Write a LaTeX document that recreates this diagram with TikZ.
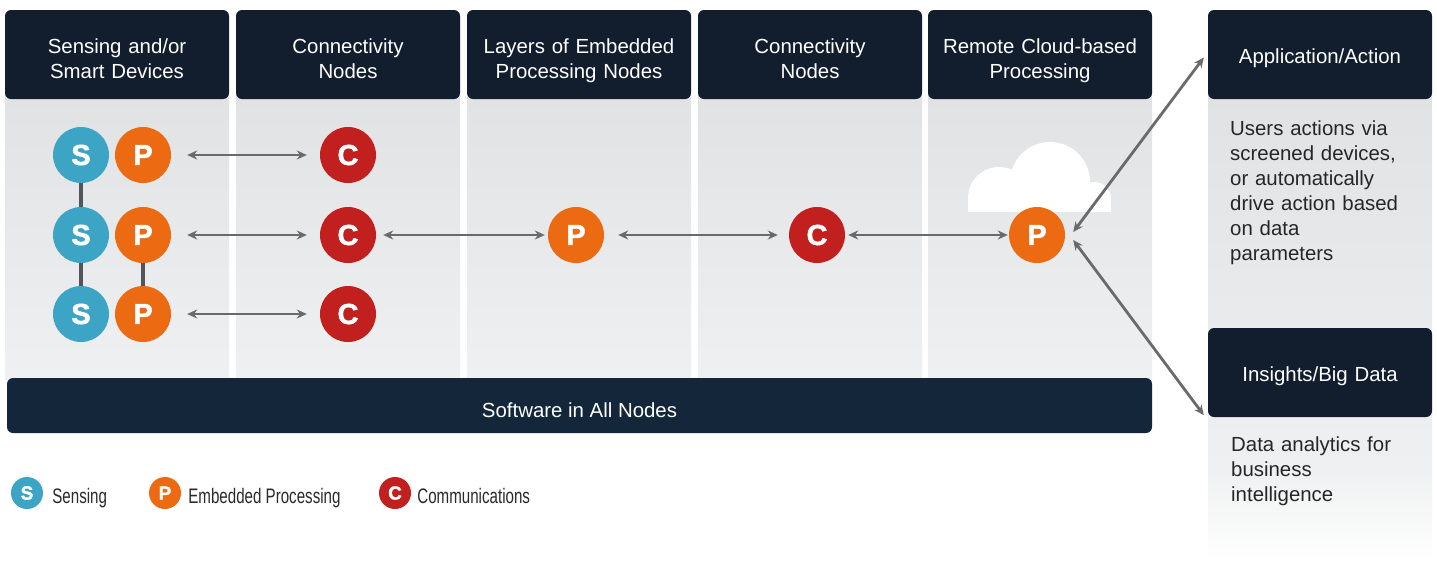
\documentclass[tikz,border=0pt]{standalone}
\usepackage{fontspec}
\setmainfont{Liberation Sans}
\newfontfamily\narrowsans[FakeStretch=0.72]{Liberation Sans}
\newfontfamily\heavysans{Liberation Sans}[BoldFeatures={FakeBold=1.6}]
\usetikzlibrary{arrows.meta}

\definecolor{navy}{HTML}{121D2D}
\definecolor{barnavy}{HTML}{13263A}
\definecolor{senseblue}{HTML}{3CA5C6}
\definecolor{procorange}{HTML}{EC6A12}
\definecolor{commred}{HTML}{C21F1F}
\definecolor{linkgray}{HTML}{6A6A6A}
\definecolor{stemgray}{HTML}{52565B}
\definecolor{paneltop}{HTML}{E1E2E4}
\definecolor{panelbot}{HTML}{EFF0F1}
\definecolor{legendtext}{HTML}{2A2A2A}

\tikzset{
  hdr/.style={fill=navy, rounded corners=6pt, minimum width=224pt, minimum height=89pt,
    inner sep=0pt, text width=224pt, align=center, text=white,
    font=\fontsize{20.4}{25}\selectfont},
  hdrtwo/.style={hdr, text height=11pt, text depth=14pt},
  hdrone/.style={hdr, text height=17pt, text depth=0pt},
  swbar/.style={fill=barnavy, rounded corners=6pt, minimum width=1145pt, minimum height=55pt,
    inner sep=0pt, text=white, text height=23pt, text depth=0pt,
    font=\fontsize{20.4}{25}\selectfont},
  dot/.style={circle, minimum size=56pt, inner sep=0pt, text=white,
    font=\heavysans\fontsize{29}{29}\selectfont\bfseries},
  sdot/.style={dot, fill=senseblue},
  pdot/.style={dot, fill=procorange},
  cdot/.style={dot, fill=commred},
  mini/.style={circle, minimum size=32pt, inner sep=0pt, text=white,
    font=\heavysans\fontsize{19}{19}\selectfont\bfseries},
  legtxt/.style={anchor=base west, inner sep=0pt, text=legendtext,
    font=\narrowsans\fontsize{21}{21}\selectfont},
  bodytxt/.style={anchor=base west, inner sep=0pt, align=left, text width=215pt,
    text=black!85, font=\fontsize{20.4}{25}\selectfont},
  link/.style={draw=linkgray, line width=2.8pt,
    {Stealth[length=10pt,width=9pt]}-{Stealth[length=10pt,width=9pt]}},
  stem/.style={draw=stemgray, line width=3.5pt},
  panel/.style={top color=paneltop, bottom color=panelbot}
}

\begin{document}
\begin{tikzpicture}[x=1pt, y=1pt]
\useasboundingbox[fill=white] (0,0) rectangle (1437,-566);

% column bodies
\foreach \xl in {5,236,467,698,928}
  \shade[panel] (\xl,-95) rectangle ++(224,-284);
% right-hand column body, fading out towards the bottom
\shade[top color=paneltop, bottom color=panelbot] (1208,-95) rectangle (1432,-470);
\shade[top color=panelbot, bottom color=white] (1208,-470) rectangle (1432,-560);

% cloud behind the remote processing node
\begin{scope}
  \clip (960,-120) rectangle (1120,-211);
  \fill[white] (1050,-182) circle (40);
  \fill[white] (999,-198) circle (31);
  \fill[white] (1094,-199) circle (17);
  \fill[white] (968,-195) rectangle (1111,-215);
\end{scope}

% column headers
\node[hdrtwo] (h1) at (117,-54.5) {Sensing and/or\\Smart Devices};
\node[hdrtwo] (h2) at (348,-54.5) {Connectivity\\Nodes};
\node[hdrtwo] (h3) at (579,-54.5) {Layers of Embedded\\Processing Nodes};
\node[hdrtwo] (h4) at (810,-54.5) {Connectivity\\Nodes};
\node[hdrtwo] (h5) at (1040,-54.5) {Remote Cloud-based\\Processing};
\node[hdrone] (app) at (1320,-54.5) {Application/Action};
\node[hdrone] (ins) at (1320,-372.5) {Insights/Big Data};

% software bar
\node[swbar] (sw) at (579.5,-405.5) {Software in All Nodes};

% device nodes
\node[sdot] (s1) at (81,-155) {S};
\node[sdot] (s2) at (81,-235) {S};
\node[sdot] (s3) at (81,-314) {S};
\node[pdot] (p1) at (143,-155) {P};
\node[pdot] (p2) at (143,-235) {P};
\node[pdot] (p3) at (143,-314) {P};

% connectivity nodes
\node[cdot] (c1) at (348,-155) {C};
\node[cdot] (c2) at (348,-235) {C};
\node[cdot] (c3) at (348,-314) {C};

% processing chain
\node[pdot] (pm) at (576,-235) {P};
\node[cdot] (c4) at (817,-235) {C};
\node[pdot] (pr) at (1037,-235) {P};

% links inside the devices column
\draw[stem] (s1) -- (s2);
\draw[stem] (s2) -- (s3);
\draw[stem] (p2) -- (p3);

% two-way links
\draw[link, shorten <=16pt, shorten >=13pt] (p1) -- (c1);
\draw[link, shorten <=16pt, shorten >=13pt] (p2) -- (c2);
\draw[link, shorten <=16pt, shorten >=13pt] (p3) -- (c3);
\draw[link, shorten <=7pt, shorten >=3pt] (c2) -- (pm);
\draw[link, shorten <=14pt, shorten >=11pt] (pm) -- (c4);
\draw[link, shorten <=3pt, shorten >=1pt] (c4) -- (pr);
\draw[link] ([xshift=8pt,yshift=3pt]pr.east) -- ([xshift=-4pt,yshift=-3pt]app.west);
\draw[link] ([xshift=8pt,yshift=-5pt]pr.east) -- ([xshift=-4pt,yshift=2pt]ins.south west);

% descriptions
\node[bodytxt] (apptxt) at (1230,-135)
  {Users actions via\\screened devices,\\or automatically\\drive action based\\on data\\parameters};
\node[bodytxt] (instxt) at (1231,-451)
  {Data analytics for\\business\\intelligence};

% legend
\node[mini, fill=senseblue] (ls) at (27,-493) {S};
\node[legtxt] (lst) at ([xshift=9pt,yshift=-10pt]ls.east) {Sensing};
\node[mini, fill=procorange] (lp) at (165,-493) {P};
\node[legtxt] (lpt) at ([xshift=7pt,yshift=-10pt]lp.east) {Embedded Processing};
\node[mini, fill=commred] (lc) at (395,-493) {C};
\node[legtxt] (lct) at ([xshift=6pt,yshift=-10pt]lc.east) {Communications};
\end{tikzpicture}
\end{document}
